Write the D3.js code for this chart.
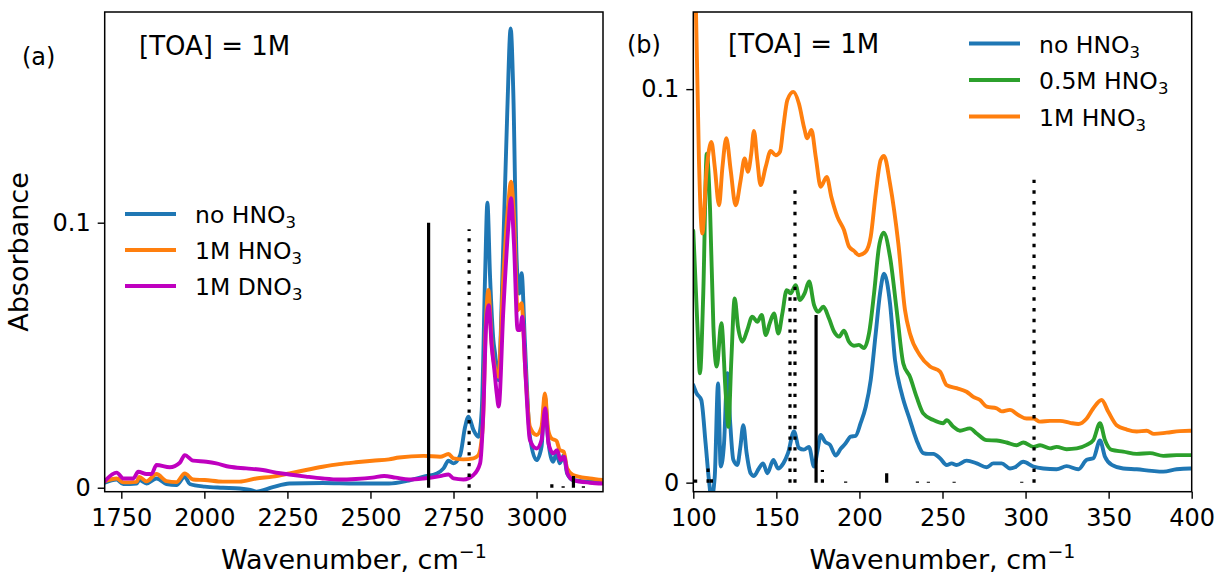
<!DOCTYPE html>
<html>
<head>
<meta charset="utf-8">
<script src="https://cdn.jsdelivr.net/npm/d3@7"></script>
<style>
  body { margin: 0; background: #fff; }
  svg { display: block; }
  text { font-family: "DejaVu Sans", sans-serif; fill: #000; }
</style>
</head>
<body>
<svg id="chart" width="1217" height="575"></svg>
<script>
// ---------- Panel (a): C–H stretching region, [TOA] = 1M ----------
const ticksA = [1750, 2000, 2250, 2500, 2750, 3000];
const yTicksA = [0, 0.1];

const noHNO3_a = [
  [1700,0.0019],[1736,0.0031],[1756,0.0014],[1796,0.0016],[1804,0.0029],[1826,0.0016],
  [1856,0.0035],[1886,0.0014],[1916,0.0010],[1941,0.0041],[1956,0.0014],[2001,0.0004],
  [2056,0.0000],[2106,-0.0003],[2146,-0.0011],[2156,-0.0015],[2206,0.0002],[2256,0.0016],
  [2356,0.0018],[2456,0.0016],[2556,0.0016],[2610,0.0026],[2660,0.0042],[2700,0.0054],
  [2720,0.0073],[2735,0.0102],[2750,0.0092],[2770,0.0123],[2785,0.0230],[2795,0.0268],
  [2810,0.0218],[2825,0.0192],[2835,0.0293],[2845,0.0796],[2852,0.1075],[2860,0.0796],
  [2870,0.0557],[2875,0.0507],[2885,0.0406],[2900,0.0920],[2912,0.1425],[2922,0.1733],
  [2930,0.1490],[2940,0.0860],[2948,0.0733],[2955,0.0809],[2965,0.0545],[2980,0.0192],
  [3000,0.0104],[3015,0.0155],[3025,0.0343],[3035,0.0180],[3050,0.0098],[3060,0.0130],
  [3070,0.0092],[3082,0.0123],[3092,0.0054],[3110,0.0029],[3160,0.0023],[3200,0.0023]
];

const HNO3_1M_a = [
  [1700,0.0025],[1736,0.0035],[1756,0.0020],[1796,0.0022],[1804,0.0041],[1826,0.0024],
  [1856,0.0052],[1886,0.0025],[1916,0.0021],[1941,0.0054],[1966,0.0031],[2001,0.0029],
  [2056,0.0023],[2106,0.0023],[2156,0.0035],[2206,0.0042],[2256,0.0054],[2306,0.0067],
  [2356,0.0079],[2406,0.0089],[2456,0.0096],[2506,0.0102],[2556,0.0107],[2586,0.0114],
  [2660,0.0120],[2710,0.0117],[2735,0.0127],[2750,0.0111],[2780,0.0107],[2810,0.0111],
  [2825,0.0123],[2838,0.0230],[2847,0.0608],[2855,0.0746],[2865,0.0545],[2872,0.0469],
  [2885,0.0419],[2900,0.0796],[2915,0.1073],[2923,0.1155],[2932,0.1023],[2943,0.0670],
  [2955,0.0696],[2965,0.0469],[2980,0.0230],[3000,0.0199],[3015,0.0230],[3025,0.0356],
  [3035,0.0218],[3045,0.0186],[3060,0.0177],[3070,0.0142],[3082,0.0136],[3092,0.0073],
  [3110,0.0048],[3160,0.0035],[3200,0.0029]
];

const DNO3_1M_a = [
  [1700,0.0025],[1736,0.0057],[1756,0.0035],[1786,0.0035],[1801,0.0060],[1826,0.0052],
  [1841,0.0052],[1856,0.0086],[1896,0.0077],[1926,0.0094],[1941,0.0123],[1966,0.0102],
  [2006,0.0098],[2036,0.0092],[2076,0.0079],[2126,0.0073],[2176,0.0067],[2216,0.0057],
  [2256,0.0050],[2306,0.0042],[2356,0.0035],[2406,0.0031],[2456,0.0033],[2506,0.0038],
  [2541,0.0044],[2576,0.0038],[2616,0.0031],[2660,0.0035],[2710,0.0044],[2735,0.0050],
  [2750,0.0035],[2780,0.0031],[2810,0.0048],[2830,0.0092],[2840,0.0293],[2848,0.0608],
  [2856,0.0689],[2865,0.0532],[2873,0.0444],[2880,0.0356],[2886,0.0306],[2900,0.0670],
  [2915,0.0985],[2923,0.1092],[2932,0.0921],[2943,0.0595],[2950,0.0595],[2957,0.0645],
  [2967,0.0419],[2980,0.0180],[3000,0.0148],[3015,0.0180],[3026,0.0300],[3036,0.0167],
  [3050,0.0130],[3062,0.0142],[3072,0.0104],[3083,0.0117],[3093,0.0054],[3110,0.0029],
  [3160,0.0019],[3200,0.0016]
];

// calculated modes: [wavenumber, intensity, style]
const sticksA = [
  [2675, 0.1000, "solid"], [2797, 0.0975, "dotted"],
  [3046, 0.0019, "dotted"], [3080, 0.0006, "solid"], [3111, 0.0044, "solid"], [3141, 0.0006, "dotted"]
];

// ---------- Panel (b): far-IR region, [TOA] = 1M ----------
const ticksB = [100, 150, 200, 250, 300, 350, 400];
const yTicksB = [0, 0.1];

const noHNO3_b = [
  [100,0.0248],[102.0,0.0227],[104.8,0.0210],[107.4,0.0100],[109.4,0.0007],[110.9,-0.0040],
  [112.9,0.0015],[114.9,0.0252],[116.5,0.0041],[118.5,0.0100],[120.5,0.0278],[122.1,0.0159],
  [124.1,0.0058],[126.5,0.0045],[128.3,0.0090],[130.1,0.0146],[132.1,0.0075],[134.5,0.0024],
  [136.5,0.0017],[139.5,0.0036],[142.0,0.0049],[144.6,0.0024],[148.2,0.0058],[151.0,0.0036],
  [154.2,0.0049],[157.0,0.0075],[160.6,0.0130],[163.6,0.0088],[166.6,0.0084],[169.6,0.0091],
  [172.7,0.0041],[174.7,0.0080],[176.7,0.0121],[179.3,0.0104],[182.3,0.0096],[185.7,0.0069],
  [188.7,0.0086],[191.7,0.0100],[194.7,0.0117],[197.7,0.0119],[200.7,0.0151],[203.8,0.0193],
  [206.8,0.0261],[209.8,0.0379],[212.4,0.0481],[214.8,0.0531],[218.4,0.0456],[221.4,0.0312],
  [225.4,0.0227],[230.4,0.0159],[234.4,0.0108],[238.4,0.0075],[241.4,0.0073],[244.5,0.0073],
  [248.5,0.0062],[252.5,0.0045],[255.5,0.0049],[258.5,0.0045],[264.5,0.0056],[270.6,0.0049],
  [276.6,0.0039],[280.6,0.0049],[285.6,0.0049],[290.6,0.0036],[293.6,0.0039],[298.6,0.0053],
  [304.7,0.0041],[310.7,0.0036],[318.7,0.0034],[324.7,0.0042],[331.8,0.0034],[336.8,0.0058],
  [340.8,0.0062],[344.8,0.0107],[347.8,0.0066],[351.9,0.0045],[358.8,0.0036],[366.9,0.0034],
  [375.9,0.0030],[382.9,0.0028],[390.9,0.0034],[399,0.0036],[400,0.0036]
];

const HNO3_05M_b = [
  [100,0.0640],[102.5,0.0396],[104.0,0.0278],[106.0,0.0481],[108.1,0.0836],[110.1,0.0693],
  [112.1,0.0396],[114.1,0.0295],[116.9,0.0405],[119.5,0.0227],[121.1,0.0142],[122.9,0.0312],
  [124.9,0.0468],[126.9,0.0396],[129.5,0.0358],[132.5,0.0388],[135.5,0.0422],[138.5,0.0409],
  [141.2,0.0426],[143.6,0.0375],[146.0,0.0405],[148.6,0.0430],[151.2,0.0379],[153.6,0.0430],
  [156.2,0.0489],[158.6,0.0481],[161.6,0.0502],[164.2,0.0464],[167.0,0.0481],[169.7,0.0511],
  [172.7,0.0451],[175.1,0.0434],[178.3,0.0447],[181.7,0.0417],[184.7,0.0384],[187.7,0.0371],
  [190.7,0.0386],[193.7,0.0358],[196.7,0.0348],[199.7,0.0350],[202.7,0.0342],[205.8,0.0380],
  [208.8,0.0481],[211.8,0.0600],[214.6,0.0635],[218.4,0.0574],[222.4,0.0439],[226.4,0.0303],
  [230.4,0.0269],[234.4,0.0218],[238.4,0.0176],[244.5,0.0159],[250.5,0.0151],[252.5,0.0159],
  [256.5,0.0142],[260.5,0.0132],[266.5,0.0138],[270.6,0.0125],[276.6,0.0108],[282.6,0.0107],
  [288.6,0.0102],[294.6,0.0095],[298.6,0.0102],[304.7,0.0091],[308.7,0.0095],[314.7,0.0087],
  [318.7,0.0091],[324.7,0.0085],[330.8,0.0087],[336.8,0.0096],[340.8,0.0108],[344.8,0.0151],
  [347.8,0.0108],[351.9,0.0083],[358.8,0.0079],[366.9,0.0073],[374.9,0.0075],[382.9,0.0068],
  [390.9,0.0070],[399,0.0070],[400,0.0070]
];

const HNO3_1M_b = [
  [100,0.1350],[101.6,0.1200],[103.4,0.0820],[105.4,0.0633],[108.0,0.0794],[110.9,0.0866],
  [112.9,0.0803],[115.5,0.0705],[117.5,0.0800],[119.9,0.0875],[122.5,0.0794],[125.5,0.0705],
  [128.5,0.0769],[130.9,0.0824],[132.9,0.0790],[134.9,0.0837],[136.5,0.0894],[138.5,0.0820],
  [140.5,0.0756],[143.6,0.0803],[146.6,0.0843],[149.6,0.0832],[152.2,0.0841],[154.2,0.0904],
  [156.6,0.0972],[160.2,0.0993],[163.6,0.0963],[166.6,0.0904],[168.6,0.0875],[171.1,0.0896],
  [173.7,0.0828],[176.7,0.0752],[180.3,0.0777],[183.1,0.0726],[186.7,0.0676],[190.7,0.0642],
  [193.7,0.0600],[196.7,0.0589],[199.7,0.0578],[203.8,0.0587],[206.8,0.0625],[209.8,0.0735],
  [212.8,0.0820],[214.8,0.0830],[218.4,0.0760],[223.4,0.0608],[227.4,0.0439],[230.4,0.0379],
  [236.4,0.0324],[242.5,0.0295],[248.5,0.0282],[252.5,0.0248],[258.5,0.0240],[264.5,0.0231],
  [268.5,0.0218],[272.6,0.0210],[276.6,0.0193],[282.6,0.0189],[285.6,0.0181],[290.6,0.0185],
  [295.6,0.0172],[300.6,0.0163],[304.7,0.0163],[308.7,0.0155],[314.7,0.0157],[320.7,0.0157],
  [326.8,0.0152],[331.8,0.0149],[336.8,0.0163],[340.8,0.0189],[345.8,0.0210],[349.8,0.0180],
  [354.8,0.0146],[360.9,0.0135],[366.9,0.0130],[372.9,0.0132],[377.3,0.0124],[384.9,0.0127],
  [392.9,0.0131],[399,0.0132],[400,0.0132]
];

const sticksB = [
  [101.4, 0.0008, "dotted"], [108.9, 0.0053, "dotted"], [110.9, 0.0010, "dotted"],
  [158.2, 0.0490, "dotted"], [161.2, 0.0760, "dotted"], [173.9, 0.0426, "solid"],
  [177.7, 0.0032, "dotted"], [191.7, 0.0003, "solid"], [216.4, 0.0024, "solid"],
  [234.9, 0.0003, "solid"], [241.5, 0.0002, "solid"], [257.0, 0.0002, "solid"],
  [297.7, 0.0002, "solid"], [305.1, 0.0787, "dotted"]
];

const legendA = [
  { label: "no HNO", sub: "3", color: "#1f77b4" },
  { label: "1M HNO", sub: "3", color: "#ff7f0e" },
  { label: "1M DNO", sub: "3", color: "#bf00bf" }
];
const legendB = [
  { label: "no HNO", sub: "3", color: "#1f77b4" },
  { label: "0.5M HNO", sub: "3", color: "#2ca02c" },
  { label: "1M HNO", sub: "3", color: "#ff7f0e" }
];

// ---------- drawing ----------
const svg = d3.select("#chart");
const FS_TICK = 24, FS_LEG = 23.5, FS_TITLE = 27, FS_NOTE = 26;
const LW = 3.9;
const plotTop = 12, plotBottom = 491.7;

function panel(opts) {
  const { id, xDomain, xRange, yDomain, xTicks, yTicks, series, sticks, legend, legendPos, tag, tagPos, note, notePos } = opts;
  const x = d3.scaleLinear().domain(xDomain).range(xRange);
  const y = d3.scaleLinear().domain(yDomain).range([plotBottom, plotTop]);
  const g = svg.append("g");

  g.append("clipPath").attr("id", "clip-" + id)
    .append("rect").attr("x", xRange[0]).attr("y", plotTop)
    .attr("width", xRange[1] - xRange[0]).attr("height", plotBottom - plotTop);

  const plot = g.append("g").attr("clip-path", `url(#clip-${id})`);
  const line = d3.line().x(d => x(d[0])).y(d => y(d[1])).curve(d3.curveMonotoneX);

  series.forEach(s => {
    plot.append("path").datum(s.data)
      .attr("fill", "none").attr("stroke", s.color)
      .attr("stroke-width", LW).attr("stroke-linejoin", "round").attr("stroke-linecap", "round")
      .attr("d", line);
  });

  plot.selectAll("line.stick").data(sticks).join("line")
    .attr("class", "stick")
    .attr("x1", d => x(d[0])).attr("x2", d => x(d[0]))
    .attr("y1", y(0)).attr("y2", d => y(d[1]))
    .attr("stroke", "#000").attr("stroke-width", 3.2)
    .attr("stroke-dasharray", d => d[2] === "dotted" ? "3.4 7.3" : null);

  // axes
  const xAxis = g.append("g").attr("transform", `translate(0,${plotBottom})`)
    .call(d3.axisBottom(x).tickValues(xTicks).tickSize(7).tickPadding(10).tickFormat(d3.format("d")));
  const yAxis = g.append("g").attr("transform", `translate(${xRange[0]},0)`)
    .call(d3.axisLeft(y).tickValues(yTicks).tickSize(7).tickPadding(7).tickFormat(d => d === 0 ? "0" : String(d)));
  [xAxis, yAxis].forEach(a => {
    a.select(".domain").remove();
    a.selectAll(".tick line").attr("stroke", "#000").attr("stroke-width", 1.4);
    a.selectAll(".tick text").attr("font-size", FS_TICK).attr("font-family", "DejaVu Sans").attr("fill", "#000");
  });

  // frame
  g.append("rect").attr("x", xRange[0]).attr("y", plotTop)
    .attr("width", xRange[1] - xRange[0]).attr("height", plotBottom - plotTop)
    .attr("fill", "none").attr("stroke", "#000").attr("stroke-width", 1.5);

  // x title
  const xt = g.append("text").attr("x", (xRange[0] + xRange[1]) / 2).attr("y", 569)
    .attr("text-anchor", "middle").attr("font-size", FS_TITLE);
  xt.append("tspan").text("Wavenumber, cm");
  xt.append("tspan").attr("dy", -11).attr("font-size", 19).text("\u22121");

  // legend
  legend.forEach((L, i) => {
    const ly = legendPos.y + i * legendPos.dy;
    g.append("line").attr("x1", legendPos.x).attr("x2", legendPos.x + 51)
      .attr("y1", ly).attr("y2", ly).attr("stroke", L.color).attr("stroke-width", LW);
    const t = g.append("text").attr("x", legendPos.x + 70).attr("y", ly + 9).attr("font-size", FS_LEG);
    t.append("tspan").text(L.label);
    t.append("tspan").attr("dy", 5).attr("font-size", 16.5).text(L.sub);
  });

  g.append("text").attr("x", tagPos[0]).attr("y", tagPos[1]).attr("font-size", FS_TICK).text(tag);
  g.append("text").attr("x", notePos[0]).attr("y", notePos[1]).attr("font-size", FS_NOTE).text(note);
}

panel({
  id: "a", xDomain: [1700, 3200], xRange: [104.7, 603], yDomain: [-0.0015, 0.1795],
  xTicks: ticksA, yTicks: yTicksA,
  series: [
    { data: noHNO3_a, color: "#1f77b4" },
    { data: HNO3_1M_a, color: "#ff7f0e" },
    { data: DNO3_1M_a, color: "#bf00bf" }
  ],
  sticks: sticksA, legend: legendA, legendPos: { x: 125, y: 214, dy: 36 },
  tag: "(a)", tagPos: [22, 65], note: "[TOA] = 1M", notePos: [139, 55]
});

panel({
  id: "b", xDomain: [100, 400], xRange: [693.3, 1191.7], yDomain: [-0.0023, 0.1196],
  xTicks: ticksB, yTicks: yTicksB,
  series: [
    { data: noHNO3_b, color: "#1f77b4" },
    { data: HNO3_05M_b, color: "#2ca02c" },
    { data: HNO3_1M_b, color: "#ff7f0e" }
  ],
  sticks: sticksB, legend: legendB, legendPos: { x: 969, y: 43.5, dy: 36.5 },
  tag: "(b)", tagPos: [627, 53], note: "[TOA] = 1M", notePos: [728, 53]
});

// y title
svg.append("text").attr("transform", "translate(28,252) rotate(-90)")
  .attr("text-anchor", "middle").attr("font-size", FS_TITLE).text("Absorbance");
</script>
</body>
</html>
